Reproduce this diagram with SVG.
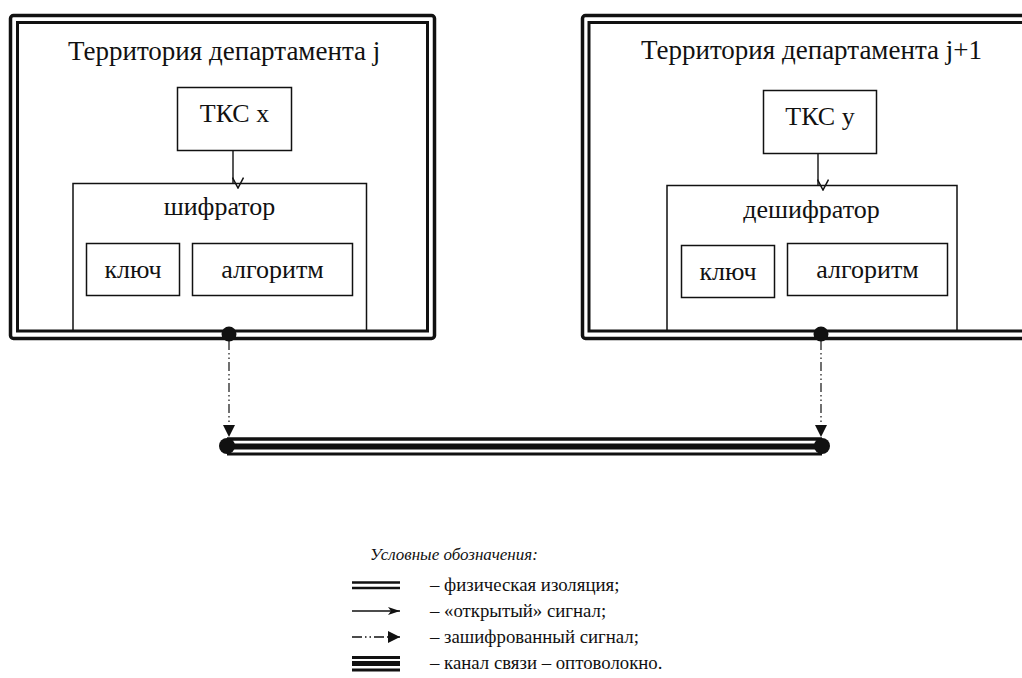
<svg xmlns="http://www.w3.org/2000/svg" width="1022" height="678" viewBox="0 0 1022 678" font-family="Liberation Serif, Times New Roman, serif">
<style>
text{font-family:"Liberation Serif","Times New Roman",serif;fill:#111}
.t{font-size:26px}
.h{font-size:27px}
.c{text-anchor:middle}
.lg{font-size:18.8px}
.box{fill:none;stroke:#111;stroke-width:1.5}
.outer{fill:none;stroke:#111;stroke-width:3.5}
.inner{fill:none;stroke:#111;stroke-width:3}
.arr{fill:none;stroke:#111;stroke-width:1.4}
.dash{fill:none;stroke:#111;stroke-width:1.2;stroke-dasharray:9 3 1.5 3 1.5 3}
</style>
<defs>
<marker id="open" viewBox="0 0 12 12" refX="6" refY="11" markerWidth="12" markerHeight="12" markerUnits="userSpaceOnUse" orient="auto">
<path d="M0.5,0.5 L6,11 L11.5,0.5" fill="none" stroke="#111" stroke-width="1.5" transform="rotate(-90 6 6)"/>
</marker>
<marker id="tri" viewBox="0 0 10 10" refX="10" refY="5" markerWidth="12" markerHeight="12" markerUnits="userSpaceOnUse" orient="auto">
<path d="M0,0 L10,5 L0,10 Z" fill="#111"/>
</marker>
<marker id="swept" viewBox="0 0 12 10" refX="12" refY="5" markerWidth="12" markerHeight="10" markerUnits="userSpaceOnUse" orient="auto">
<path d="M0,1 L12,5 L0,9 L3,5 Z" fill="#111"/>
</marker>
</defs>

<g id="territory-j">
<rect class="outer" x="10.5" y="15.5" width="424" height="323" rx="3"/>
<rect class="inner" x="17.5" y="22.5" width="410" height="308.5"/>
<text class="h" x="68" y="60" font-family="Liberation Serif, serif">Территория департамента j</text>
</g>
<g id="tks-x">
<rect class="box" x="177.5" y="87.5" width="114" height="63"/>
<text class="t c" x="234.5" y="122" font-family="Liberation Serif, serif">ТКС x</text>
</g>
<g id="shifrator">
<path class="box" d="M73,331 V183.5 H366.5 V331"/>
<text class="t c" x="219.5" y="215" font-family="Liberation Serif, serif">шифратор</text>
</g>
<g id="key-j">
<rect class="box" x="86.5" y="243.5" width="93" height="52"/>
<text class="t c" x="133" y="278" font-family="Liberation Serif, serif">ключ</text>
</g>
<g id="algo-j">
<rect class="box" x="192.5" y="243.5" width="160" height="52"/>
<text class="t c" x="272.5" y="278" font-family="Liberation Serif, serif">алгоритм</text>
</g>

<g id="territory-j1">
<rect class="outer" x="582.5" y="15.5" width="460" height="323" rx="3"/>
<rect class="inner" x="589" y="22.5" width="450" height="308.5"/>
<text class="h" x="641" y="59" font-family="Liberation Serif, serif">Территория департамента j+1</text>
</g>
<g id="tks-y">
<rect class="box" x="763.5" y="90.5" width="113" height="63"/>
<text class="t c" x="820" y="125" font-family="Liberation Serif, serif">ТКС y</text>
</g>
<g id="deshifrator">
<path class="box" d="M667,331 V185.5 H957 V331"/>
<text class="t c" x="811.5" y="218" font-family="Liberation Serif, serif">дешифратор</text>
</g>
<g id="key-j1">
<rect class="box" x="681.5" y="245.5" width="93" height="52"/>
<text class="t c" x="728" y="280" font-family="Liberation Serif, serif">ключ</text>
</g>
<g id="algo-j1">
<rect class="box" x="787.5" y="243.5" width="160" height="52"/>
<text class="t c" x="867.5" y="278" font-family="Liberation Serif, serif">алгоритм</text>
</g>

<g id="channel">
<line x1="227" y1="439" x2="822" y2="439" stroke="#111" stroke-width="3.5"/>
<line x1="227" y1="446.5" x2="822" y2="446.5" stroke="#111" stroke-width="6"/>
<line x1="227" y1="454" x2="822" y2="454" stroke="#111" stroke-width="3"/>
<circle cx="227" cy="446" r="8" fill="#111"/>
<circle cx="822" cy="446" r="8" fill="#111"/>
</g>

<g id="connectors">
<line class="arr" x1="233" y1="151" x2="233" y2="183" marker-end="url(#open)"/>
<line class="arr" x1="818" y1="154" x2="818" y2="185" marker-end="url(#open)"/>
<circle cx="229" cy="334" r="7.5" fill="#111"/>
<circle cx="821" cy="334" r="7.5" fill="#111"/>
<line class="dash" x1="229" y1="341" x2="229" y2="437" marker-end="url(#tri)"/>
<line class="dash" x1="821" y1="341" x2="821" y2="437" marker-end="url(#tri)"/>
</g>

<g id="legend">
<text x="370" y="560" font-size="17" font-style="italic" font-family="Liberation Serif, serif">Условные обозначения:</text>
<line x1="352" y1="582.5" x2="400" y2="582.5" stroke="#111" stroke-width="2.5"/>
<line x1="352" y1="588" x2="400" y2="588" stroke="#111" stroke-width="2.5"/>
<text class="lg" x="430" y="591" font-family="Liberation Serif, serif">– физическая изоляция;</text>
<line x1="352" y1="611" x2="400" y2="611" stroke="#111" stroke-width="1.4" marker-end="url(#swept)"/>
<text class="lg" x="430" y="617" font-family="Liberation Serif, serif">– «открытый» сигнал;</text>
<line x1="352" y1="637" x2="400" y2="637" stroke="#111" stroke-width="1.3" stroke-dasharray="10 3 1.5 3 1.5 3" marker-end="url(#tri)"/>
<text class="lg" x="430" y="643" font-family="Liberation Serif, serif">– зашифрованный сигнал;</text>
<line x1="352" y1="657.5" x2="400" y2="657.5" stroke="#111" stroke-width="3"/>
<line x1="352" y1="663.5" x2="400" y2="663.5" stroke="#111" stroke-width="5"/>
<line x1="352" y1="670" x2="400" y2="670" stroke="#111" stroke-width="3"/>
<text class="lg" x="430" y="669" font-family="Liberation Serif, serif">– канал связи – оптоволокно.</text>
</g>
</svg>
